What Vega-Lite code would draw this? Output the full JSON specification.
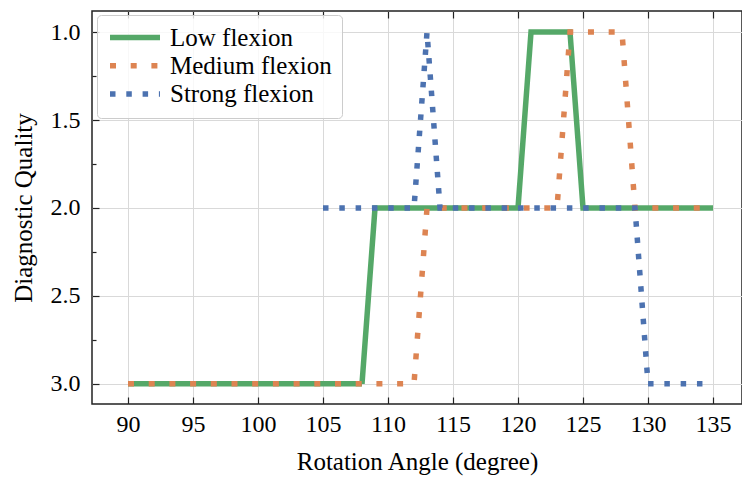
{
  "$schema": "https://vega.github.io/schema/vega-lite/v6.json",
  "width": 650,
  "height": 393,
  "autosize": {"type": "none"},
  "padding": {"left": 92, "top": 11, "right": 0, "bottom": 75},
  "background": "white",
  "config": {
    "view": {"stroke": "#222222", "strokeWidth": 1.5},
    "font": "Liberation Serif",
    "axis": {
      "labelFont": "Liberation Serif",
      "titleFont": "Liberation Serif",
      "labelFontSize": 24,
      "titleFontSize": 25,
      "labelColor": "#000000",
      "titleColor": "#000000",
      "titleFontWeight": "normal",
      "tickColor": "#222222",
      "tickWidth": 1.2,
      "gridColor": "#d9d9d9",
      "gridWidth": 1,
      "domain": false
    }
  },
  "data": {"values": [
    {"angle": 90, "quality": 3, "series": "Low flexion"},
    {"angle": 91, "quality": 3, "series": "Low flexion"},
    {"angle": 92, "quality": 3, "series": "Low flexion"},
    {"angle": 93, "quality": 3, "series": "Low flexion"},
    {"angle": 94, "quality": 3, "series": "Low flexion"},
    {"angle": 95, "quality": 3, "series": "Low flexion"},
    {"angle": 96, "quality": 3, "series": "Low flexion"},
    {"angle": 97, "quality": 3, "series": "Low flexion"},
    {"angle": 98, "quality": 3, "series": "Low flexion"},
    {"angle": 99, "quality": 3, "series": "Low flexion"},
    {"angle": 100, "quality": 3, "series": "Low flexion"},
    {"angle": 101, "quality": 3, "series": "Low flexion"},
    {"angle": 102, "quality": 3, "series": "Low flexion"},
    {"angle": 103, "quality": 3, "series": "Low flexion"},
    {"angle": 104, "quality": 3, "series": "Low flexion"},
    {"angle": 105, "quality": 3, "series": "Low flexion"},
    {"angle": 106, "quality": 3, "series": "Low flexion"},
    {"angle": 107, "quality": 3, "series": "Low flexion"},
    {"angle": 108, "quality": 3, "series": "Low flexion"},
    {"angle": 109, "quality": 2, "series": "Low flexion"},
    {"angle": 110, "quality": 2, "series": "Low flexion"},
    {"angle": 111, "quality": 2, "series": "Low flexion"},
    {"angle": 112, "quality": 2, "series": "Low flexion"},
    {"angle": 113, "quality": 2, "series": "Low flexion"},
    {"angle": 114, "quality": 2, "series": "Low flexion"},
    {"angle": 115, "quality": 2, "series": "Low flexion"},
    {"angle": 116, "quality": 2, "series": "Low flexion"},
    {"angle": 117, "quality": 2, "series": "Low flexion"},
    {"angle": 118, "quality": 2, "series": "Low flexion"},
    {"angle": 119, "quality": 2, "series": "Low flexion"},
    {"angle": 120, "quality": 2, "series": "Low flexion"},
    {"angle": 121, "quality": 1, "series": "Low flexion"},
    {"angle": 122, "quality": 1, "series": "Low flexion"},
    {"angle": 123, "quality": 1, "series": "Low flexion"},
    {"angle": 124, "quality": 1, "series": "Low flexion"},
    {"angle": 125, "quality": 2, "series": "Low flexion"},
    {"angle": 126, "quality": 2, "series": "Low flexion"},
    {"angle": 127, "quality": 2, "series": "Low flexion"},
    {"angle": 128, "quality": 2, "series": "Low flexion"},
    {"angle": 129, "quality": 2, "series": "Low flexion"},
    {"angle": 130, "quality": 2, "series": "Low flexion"},
    {"angle": 131, "quality": 2, "series": "Low flexion"},
    {"angle": 132, "quality": 2, "series": "Low flexion"},
    {"angle": 133, "quality": 2, "series": "Low flexion"},
    {"angle": 134, "quality": 2, "series": "Low flexion"},
    {"angle": 135, "quality": 2, "series": "Low flexion"},
    {"angle": 90, "quality": 3, "series": "Medium flexion"},
    {"angle": 91, "quality": 3, "series": "Medium flexion"},
    {"angle": 92, "quality": 3, "series": "Medium flexion"},
    {"angle": 93, "quality": 3, "series": "Medium flexion"},
    {"angle": 94, "quality": 3, "series": "Medium flexion"},
    {"angle": 95, "quality": 3, "series": "Medium flexion"},
    {"angle": 96, "quality": 3, "series": "Medium flexion"},
    {"angle": 97, "quality": 3, "series": "Medium flexion"},
    {"angle": 98, "quality": 3, "series": "Medium flexion"},
    {"angle": 99, "quality": 3, "series": "Medium flexion"},
    {"angle": 100, "quality": 3, "series": "Medium flexion"},
    {"angle": 101, "quality": 3, "series": "Medium flexion"},
    {"angle": 102, "quality": 3, "series": "Medium flexion"},
    {"angle": 103, "quality": 3, "series": "Medium flexion"},
    {"angle": 104, "quality": 3, "series": "Medium flexion"},
    {"angle": 105, "quality": 3, "series": "Medium flexion"},
    {"angle": 106, "quality": 3, "series": "Medium flexion"},
    {"angle": 107, "quality": 3, "series": "Medium flexion"},
    {"angle": 108, "quality": 3, "series": "Medium flexion"},
    {"angle": 109, "quality": 3, "series": "Medium flexion"},
    {"angle": 110, "quality": 3, "series": "Medium flexion"},
    {"angle": 111, "quality": 3, "series": "Medium flexion"},
    {"angle": 112, "quality": 3, "series": "Medium flexion"},
    {"angle": 113, "quality": 2, "series": "Medium flexion"},
    {"angle": 114, "quality": 2, "series": "Medium flexion"},
    {"angle": 115, "quality": 2, "series": "Medium flexion"},
    {"angle": 116, "quality": 2, "series": "Medium flexion"},
    {"angle": 117, "quality": 2, "series": "Medium flexion"},
    {"angle": 118, "quality": 2, "series": "Medium flexion"},
    {"angle": 119, "quality": 2, "series": "Medium flexion"},
    {"angle": 120, "quality": 2, "series": "Medium flexion"},
    {"angle": 121, "quality": 2, "series": "Medium flexion"},
    {"angle": 122, "quality": 2, "series": "Medium flexion"},
    {"angle": 123, "quality": 2, "series": "Medium flexion"},
    {"angle": 124, "quality": 1, "series": "Medium flexion"},
    {"angle": 125, "quality": 1, "series": "Medium flexion"},
    {"angle": 126, "quality": 1, "series": "Medium flexion"},
    {"angle": 127, "quality": 1, "series": "Medium flexion"},
    {"angle": 128, "quality": 1, "series": "Medium flexion"},
    {"angle": 129, "quality": 2, "series": "Medium flexion"},
    {"angle": 130, "quality": 2, "series": "Medium flexion"},
    {"angle": 131, "quality": 2, "series": "Medium flexion"},
    {"angle": 132, "quality": 2, "series": "Medium flexion"},
    {"angle": 133, "quality": 2, "series": "Medium flexion"},
    {"angle": 134, "quality": 2, "series": "Medium flexion"},
    {"angle": 135, "quality": 2, "series": "Medium flexion"},
    {"angle": 105, "quality": 2, "series": "Strong flexion"},
    {"angle": 106, "quality": 2, "series": "Strong flexion"},
    {"angle": 107, "quality": 2, "series": "Strong flexion"},
    {"angle": 108, "quality": 2, "series": "Strong flexion"},
    {"angle": 109, "quality": 2, "series": "Strong flexion"},
    {"angle": 110, "quality": 2, "series": "Strong flexion"},
    {"angle": 111, "quality": 2, "series": "Strong flexion"},
    {"angle": 112, "quality": 2, "series": "Strong flexion"},
    {"angle": 113, "quality": 1, "series": "Strong flexion"},
    {"angle": 114, "quality": 2, "series": "Strong flexion"},
    {"angle": 115, "quality": 2, "series": "Strong flexion"},
    {"angle": 116, "quality": 2, "series": "Strong flexion"},
    {"angle": 117, "quality": 2, "series": "Strong flexion"},
    {"angle": 118, "quality": 2, "series": "Strong flexion"},
    {"angle": 119, "quality": 2, "series": "Strong flexion"},
    {"angle": 120, "quality": 2, "series": "Strong flexion"},
    {"angle": 121, "quality": 2, "series": "Strong flexion"},
    {"angle": 122, "quality": 2, "series": "Strong flexion"},
    {"angle": 123, "quality": 2, "series": "Strong flexion"},
    {"angle": 124, "quality": 2, "series": "Strong flexion"},
    {"angle": 125, "quality": 2, "series": "Strong flexion"},
    {"angle": 126, "quality": 2, "series": "Strong flexion"},
    {"angle": 127, "quality": 2, "series": "Strong flexion"},
    {"angle": 128, "quality": 2, "series": "Strong flexion"},
    {"angle": 129, "quality": 2, "series": "Strong flexion"},
    {"angle": 130, "quality": 3, "series": "Strong flexion"},
    {"angle": 131, "quality": 3, "series": "Strong flexion"},
    {"angle": 132, "quality": 3, "series": "Strong flexion"},
    {"angle": 133, "quality": 3, "series": "Strong flexion"},
    {"angle": 134, "quality": 3, "series": "Strong flexion"},
    {"angle": 135, "quality": 3, "series": "Strong flexion"}
  ]},
  "layer": [
    {
      "mark": {"type": "line", "strokeWidth": 5.5, "strokeCap": "butt", "strokeJoin": "miter", "clip": true},
      "encoding": {
        "x": {
          "field": "angle", "type": "quantitative",
          "scale": {"domain": [87.23, 137.23], "nice": false, "zero": false},
          "axis": {
            "orient": "bottom",
            "title": "Rotation Angle (degree)",
            "values": [90, 95, 100, 105, 110, 115, 120, 125, 130, 135],
            "grid": true,
            "tickSize": -7,
            "labelPadding": 15,
            "titlePadding": 13
          }
        },
        "y": {
          "field": "quality", "type": "quantitative",
          "scale": {"domain": [0.88, 3.115], "nice": false, "zero": false, "reverse": true},
          "axis": {
            "orient": "left",
            "title": "Diagnostic Quality",
            "values": [1, 1.5, 2, 2.5, 3],
            "format": ".1f",
            "grid": true,
            "tickSize": -7,
            "labelPadding": 19,
            "titlePadding": 14
          }
        },
        "color": {
          "field": "series", "type": "nominal",
          "scale": {"domain": ["Low flexion", "Medium flexion", "Strong flexion"], "range": ["#55a868", "#dd8452", "#4c72b0"]},
          "legend": {
            "title": null, "orient": "none", "legendX": 5, "legendY": 4,
            "symbolType": "M-1.9,0H8.1", "symbolSize": 100, "symbolStrokeWidth": 5.5,
            "labelFont": "Liberation Serif", "labelFontSize": 25, "labelColor": "#000000", "labelLimit": 0,
            "labelOffset": 38, "padding": 10, "rowPadding": 2.3,
            "strokeColor": "#cccccc", "fillColor": "rgba(255,255,255,0.8)", "cornerRadius": 4
          }
        },
        "strokeDash": {
          "field": "series", "type": "nominal",
          "scale": {"domain": ["Low flexion", "Medium flexion", "Strong flexion"], "range": [[1, 0], [6, 14.7], [5.5, 10.8]]},
          "legend": {
            "title": null, "orient": "none", "legendX": 5, "legendY": 4,
            "symbolType": "M-1.9,0H8.1", "symbolSize": 100, "symbolStrokeWidth": 5.5,
            "labelFont": "Liberation Serif", "labelFontSize": 25, "labelColor": "#000000", "labelLimit": 0,
            "labelOffset": 38, "padding": 10, "rowPadding": 2.3,
            "strokeColor": "#cccccc", "fillColor": "rgba(255,255,255,0.8)", "cornerRadius": 4
          }
        }
      }
    },
    {
      "mark": {"type": "point", "opacity": 0},
      "encoding": {
        "x": {
          "field": "angle", "type": "quantitative",
          "axis": {"orient": "top", "title": null, "labels": false, "grid": false, "values": [90, 95, 100, 105, 110, 115, 120, 125, 130, 135], "tickSize": -7}
        },
        "y": {
          "field": "quality", "type": "quantitative",
          "axis": {"orient": "left", "title": null, "labels": false, "grid": false, "values": [1.25, 1.75, 2.25, 2.75], "tickSize": -4}
        }
      }
    }
  ],
  "resolve": {"axis": {"x": "independent", "y": "independent"}}
}
